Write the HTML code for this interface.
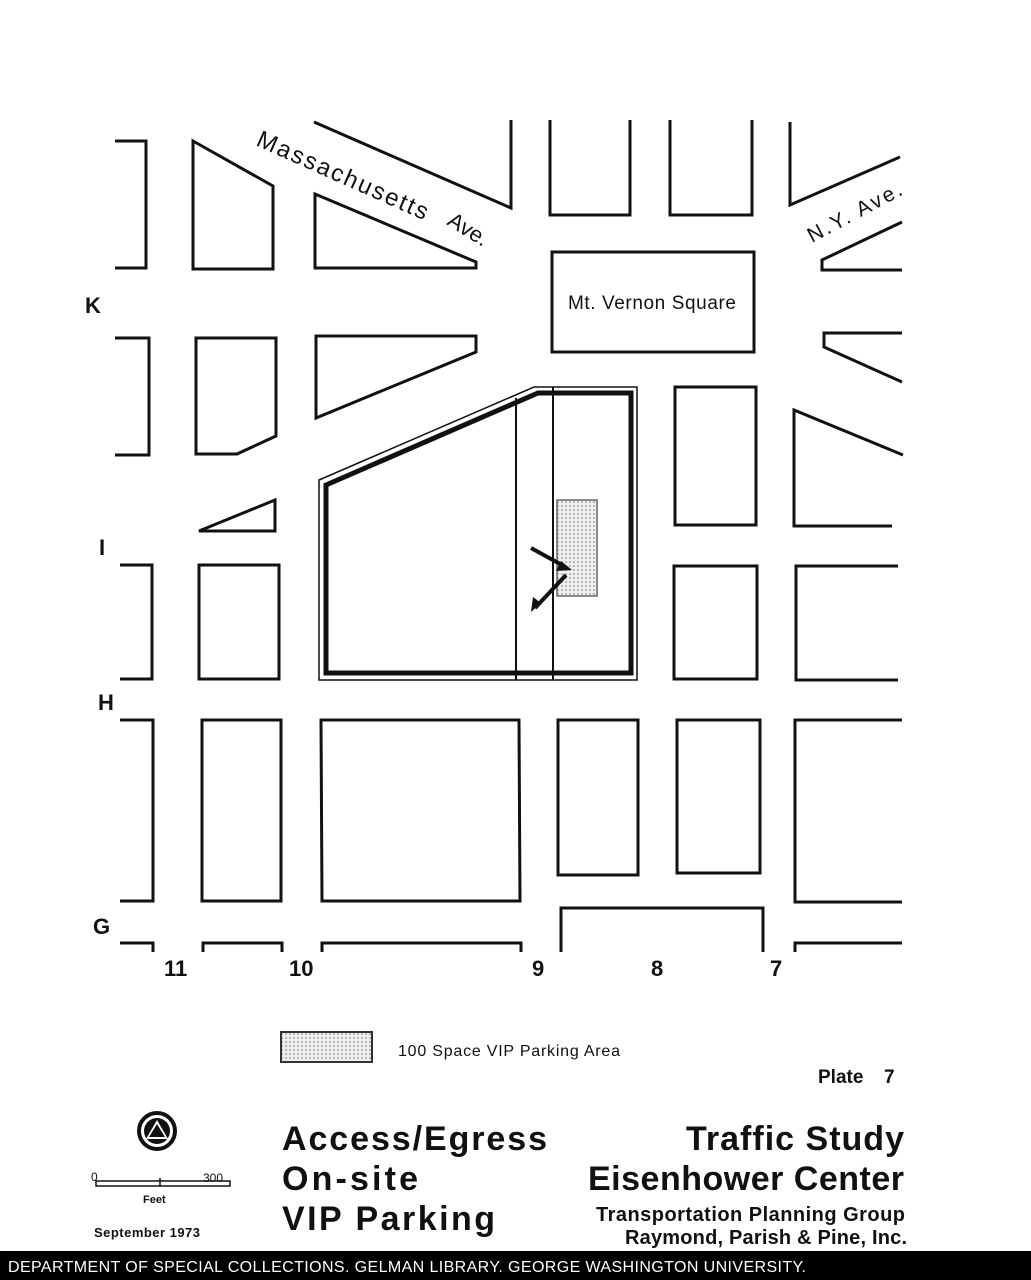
<!DOCTYPE html>
<html><head><style>
html,body{margin:0;padding:0;background:#fff;}
svg{display:block;}
text{font-family:"Liberation Sans",sans-serif;fill:#111;}
</style></head><body>
<svg width="1031" height="1280" viewBox="0 0 1031 1280" xmlns="http://www.w3.org/2000/svg">
<defs>
<pattern id="dots" width="4" height="4" patternUnits="userSpaceOnUse"><rect width="4" height="4" fill="#eee"/><circle cx="2" cy="2" r="0.8" fill="#777"/></pattern>
</defs>
<g fill="none" stroke="#111" stroke-width="3" stroke-linejoin="miter">
<polyline points="115,141 146,141 146,268 115,268"/>
<polygon points="193,141 273,186 273,269 193,269"/>
<polyline points="314,122 511,208 511,120"/>
<polygon points="315,194 476,262 476,268 315,268"/>
<polyline points="550,120 550,215 630,215 630,120"/>
<polyline points="670,120 670,215 752,215 752,120"/>
<polyline points="790,122 790,205 900,157"/>
<polyline points="902,222 822,260 822,270 902,270"/>
<rect x="552" y="252" width="202" height="100"/>
<polyline points="115,338 149,338 149,455 115,455"/>
<polygon points="196,338 276,338 276,436 237,454 196,454"/>
<polygon points="316,336 476,336 476,352 316,418"/>
<polyline points="902,333 824,333 824,347 902,382"/>
<rect x="675" y="387" width="81" height="138"/>
<polyline points="903,455 794,410 794,526 892,526"/>
<polygon points="199,531 275,500 275,531"/>
<polyline points="120,565 152,565 152,679 120,679"/>
<rect x="199" y="565" width="80" height="114"/>
<rect x="674" y="566" width="83" height="113"/>
<polyline points="898,566 796,566 796,680 898,680"/>
<polyline points="120,720 153,720 153,901 120,901"/>
<rect x="202" y="720" width="79" height="181"/>
<polygon points="321,720 519,720 520,901 322,901"/>
<rect x="558" y="720" width="80" height="155"/>
<rect x="677" y="720" width="83" height="153"/>
<polyline points="902,720 795,720 795,902 902,902"/>
<polyline points="120,943 153,943 153,952"/>
<polyline points="203,952 203,943 282,943 282,952"/>
<polyline points="322,952 322,943 521,943 521,952"/>
<polyline points="561,952 561,908 763,908 763,952"/>
<polyline points="795,952 795,943 902,943"/>
</g>
<rect x="557" y="500" width="40" height="96" fill="url(#dots)" stroke="#666" stroke-width="1.5"/>
<g fill="none" stroke="#111">
<polygon points="319,480 534,387 637,387 637,680 319,680" stroke-width="1.5"/>
<polygon points="326,485 538,393 631,393 631,673 326,673" stroke-width="5"/>
<line x1="516" y1="398" x2="516" y2="680" stroke-width="2"/>
<line x1="553" y1="387" x2="553" y2="680" stroke-width="2"/>
<line x1="531" y1="548" x2="562" y2="565" stroke-width="4"/>
<line x1="566" y1="575" x2="535" y2="608" stroke-width="4"/>
</g>
<polygon points="572,570 556,571 561,561" fill="#111"/>
<polygon points="531,612 533,597 541,603" fill="#111"/>
<g font-weight="bold" font-size="22">
<text x="85" y="313">K</text>
<text x="99" y="555">I</text>
<text x="98" y="710">H</text>
<text x="93" y="934">G</text>
<text x="164" y="976">11</text>
<text x="289" y="976">10</text>
<text x="532" y="976">9</text>
<text x="651" y="976">8</text>
<text x="770" y="976">7</text>
</g>
<text x="0" y="0" font-size="24" textLength="185" transform="translate(255,145) rotate(24)">Massachusetts</text>
<text x="0" y="0" font-size="22" transform="translate(446,224) rotate(32)">Ave.</text>
<text x="0" y="0" font-size="21" textLength="104" transform="translate(812,243) rotate(-28)">N.Y. Ave.</text>
<text x="568" y="309" font-size="19" textLength="168">Mt. Vernon Square</text>
<rect x="281" y="1032" width="91" height="30" fill="url(#dots)" stroke="#333" stroke-width="2"/>
<text x="398" y="1056" font-size="16" textLength="222">100 Space VIP Parking Area</text>
<text x="818" y="1083" font-size="19" font-weight="bold">Plate</text>
<text x="884" y="1083" font-size="19" font-weight="bold">7</text>
<circle cx="157" cy="1131" r="18" fill="none" stroke="#111" stroke-width="4"/>
<circle cx="157" cy="1131" r="13" fill="#111"/>
<polygon points="157,1120 168,1139 146,1139" fill="#fff"/>
<polygon points="157,1124 165,1137 149,1137" fill="#111"/>
<g stroke="#111" stroke-width="1.5" fill="none">
<rect x="96" y="1181" width="134" height="5"/>
<line x1="160" y1="1178" x2="160" y2="1186"/>
</g>
<text x="91" y="1181" font-size="12">0</text>
<text x="203" y="1182" font-size="12">300</text>
<text x="143" y="1203" font-size="11" font-weight="bold">Feet</text>
<text x="94" y="1237" font-size="13" font-weight="bold" textLength="106">September 1973</text>
<g font-weight="bold" font-size="34">
<text x="282" y="1150" textLength="265">Access/Egress</text>
<text x="282" y="1190" textLength="136">On-site</text>
<text x="282" y="1230" textLength="213">VIP  Parking</text>
<text x="686" y="1150" textLength="218">Traffic Study</text>
<text x="588" y="1190" textLength="316">Eisenhower Center</text>
</g>
<g font-weight="bold" font-size="20">
<text x="596" y="1221" textLength="309">Transportation Planning Group</text>
<text x="625" y="1244" textLength="282">Raymond, Parish &amp; Pine, Inc.</text>
</g>
<rect x="0" y="1251" width="1031" height="29" fill="#000"/>
<text x="8" y="1272" font-size="16" textLength="798" style="fill:#fff">DEPARTMENT OF SPECIAL COLLECTIONS. GELMAN LIBRARY. GEORGE WASHINGTON UNIVERSITY.</text>
</svg>
</body></html>
